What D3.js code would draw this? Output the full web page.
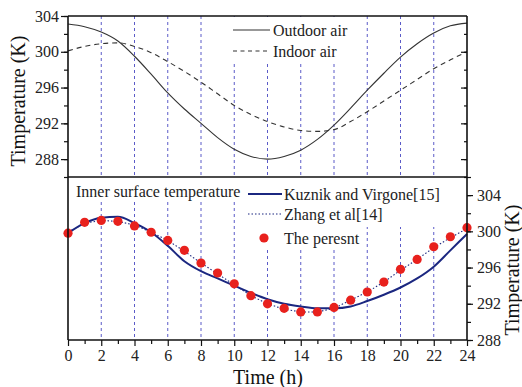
<!DOCTYPE html>
<html>
<head>
<meta charset="utf-8">
<script src="https://cdn.jsdelivr.net/npm/d3@7"></script>
<style>
  html, body { margin: 0; padding: 0; background: #fff; }
  svg { display: block; }
  svg text { font-family: "Liberation Serif", "Times New Roman", Tinos, "DejaVu Serif", serif; }
</style>
</head>
<body>
<svg id="chart" width="522" height="387"></svg>
<script>
// Hours of the day
const hours = d3.range(0, 25);

// Air temperatures (K), upper panel
const outdoorAir = [303.1, 302.8, 302.2, 301.2, 299.5, 297.5, 295.4, 293.6, 292.0, 290.4, 289.1, 288.3, 288.0,
                    288.3, 289.0, 290.2, 291.8, 293.7, 295.7, 297.6, 299.4, 300.9, 302.1, 302.9, 303.2];
const indoorAir = [300.1, 300.6, 300.9, 301.0, 300.6, 299.9, 298.9, 297.8, 296.6, 295.3, 294.0, 293.0, 292.2,
                   291.6, 291.2, 291.1, 291.3, 292.2, 293.3, 294.5, 295.7, 296.9, 298.1, 299.1, 300.0];

// Inner surface temperatures (K), lower panel
const kuznik = [299.8, 300.9, 301.5, 301.6, 300.9, 299.9, 298.4, 296.7, 295.6, 294.8, 294.0, 293.2, 292.5,
                292.0, 291.7, 291.5, 291.5, 291.7, 292.3, 293.0, 293.8, 294.8, 296.1, 297.9, 299.7];
const zhang = [299.9, 300.9, 301.2, 301.1, 300.7, 299.9, 299.0, 297.8, 296.5, 295.3, 294.1, 292.9, 292.0,
               291.4, 291.1, 291.1, 291.5, 292.4, 293.3, 294.4, 295.7, 296.9, 298.2, 299.3, 300.3];
const present = [299.8, 301.0, 301.2, 301.1, 300.6, 299.9, 299.0, 297.9, 296.5, 295.4, 294.2, 292.9, 292.0,
                 291.5, 291.1, 291.1, 291.6, 292.4, 293.3, 294.4, 295.8, 296.9, 298.3, 299.4, 300.4];

// Tick values
const xMajor = d3.range(0, 25, 2);
const xMinor = d3.range(1, 24, 2);
const yMajor = [288, 292, 296, 300, 304];
const topMinor = d3.range(286, 305, 2);
const botMinor = d3.range(288, 307, 2);
const gridHours = d3.range(2, 23, 2);

const svg = d3.select("#chart");
const L = 68, R = 467, T = 16, MID = 177, B = 340;

const x = d3.scaleLinear().domain([0, 24]).range([L, R]);
const yTop = d3.scaleLinear().domain([286, 304]).range([MID, T]);
const yBot = d3.scaleLinear().domain([288, 306]).range([B, MID]);

const navy = "#1b2780";
const gridColor = "#5b5bc8";
const serif = '"Liberation Serif", "Times New Roman", Tinos, "DejaVu Serif", serif';

// Vertical dashed reference lines
svg.append("g").selectAll("line").data(gridHours).join("line")
  .attr("x1", d => x(d)).attr("x2", d => x(d))
  .attr("y1", T).attr("y2", B)
  .attr("stroke", gridColor).attr("stroke-width", 1)
  .attr("stroke-dasharray", "3,3");

// Upper panel curves
const lineTop = d3.line().x((d, i) => x(hours[i])).y(d => yTop(d)).curve(d3.curveMonotoneX);
svg.append("path").attr("d", lineTop(outdoorAir))
  .attr("fill", "none").attr("stroke", "#333").attr("stroke-width", 1.1);
svg.append("path").attr("d", lineTop(indoorAir))
  .attr("fill", "none").attr("stroke", "#333").attr("stroke-width", 1.1)
  .attr("stroke-dasharray", "5,4");

// Lower panel curves
const lineBot = d3.line().x((d, i) => x(hours[i])).y(d => yBot(d)).curve(d3.curveMonotoneX);
svg.append("path").attr("d", lineBot(kuznik))
  .attr("fill", "none").attr("stroke", navy).attr("stroke-width", 2);
svg.append("path").attr("d", d3.line().x((d, i) => x(hours[i])).y(d => yBot(d))(zhang))
  .attr("fill", "none").attr("stroke", navy).attr("stroke-width", 1.1)
  .attr("stroke-dasharray", "1.5,2");
svg.append("g").selectAll("circle").data(present).join("circle")
  .attr("cx", (d, i) => x(hours[i])).attr("cy", d => yBot(d))
  .attr("r", 4.6).attr("fill", "#e8211d");

// Frame
const frame = svg.append("g").attr("stroke", "#111").attr("stroke-width", 1.6).attr("fill", "none");
frame.append("line").attr("x1", L).attr("x2", R).attr("y1", T).attr("y2", T);
frame.append("line").attr("x1", L).attr("x2", R).attr("y1", MID).attr("y2", MID);
frame.append("line").attr("x1", L).attr("x2", R).attr("y1", B).attr("y2", B);
frame.append("line").attr("x1", L).attr("x2", L).attr("y1", T).attr("y2", B);
frame.append("line").attr("x1", R).attr("x2", R).attr("y1", T).attr("y2", B);

function styleAxis(g) {
  g.select(".domain").remove();
  g.attr("font-family", serif).attr("font-size", 16);
  g.selectAll(".tick line").attr("stroke", "#111").attr("stroke-width", 1.2);
  g.selectAll(".tick text").attr("fill", "#222").style("font-family", serif).style("font-size", "16px");
}

// Upper left axis
svg.append("g").attr("transform", `translate(${L},0)`)
  .call(d3.axisLeft(yTop).tickValues(topMinor).tickSize(4).tickFormat(""))
  .call(styleAxis);
svg.append("g").attr("transform", `translate(${L},0)`)
  .call(d3.axisLeft(yTop).tickValues(yMajor).tickSize(7).tickPadding(2).tickFormat(d3.format("d")))
  .call(styleAxis);
// Upper right inner ticks
svg.append("g").attr("transform", `translate(${R},0)`)
  .call(d3.axisLeft(yTop).tickValues(topMinor.filter(v => v < 304)).tickSize(3).tickFormat(""))
  .call(styleAxis);
svg.append("g").attr("transform", `translate(${R},0)`)
  .call(d3.axisLeft(yTop).tickValues(yMajor.filter(v => v < 304)).tickSize(6).tickFormat(""))
  .call(styleAxis);

// Lower right axis
svg.append("g").attr("transform", `translate(${R},0)`)
  .call(d3.axisRight(yBot).tickValues(botMinor).tickSize(4).tickFormat(""))
  .call(styleAxis);
svg.append("g").attr("transform", `translate(${R},0)`)
  .call(d3.axisRight(yBot).tickValues(yMajor).tickSize(6).tickPadding(4).tickFormat(d3.format("d")))
  .call(styleAxis);

// Time axis
svg.append("g").attr("transform", `translate(0,${B})`)
  .call(d3.axisBottom(x).tickValues(xMinor).tickSize(4).tickFormat(""))
  .call(styleAxis);
svg.append("g").attr("transform", `translate(0,${B})`)
  .call(d3.axisBottom(x).tickValues(xMajor).tickSize(6).tickPadding(4).tickFormat(d3.format("d")))
  .call(styleAxis);

// Axis titles
svg.append("text").attr("transform", "translate(25,101) rotate(-90)")
  .attr("text-anchor", "middle").attr("font-size", 20).attr("fill", "#111")
  .text("Timperature (K)");
svg.append("text").attr("transform", "translate(519,270) rotate(-90)")
  .attr("text-anchor", "middle").attr("font-size", 20).attr("fill", "#111")
  .text("Timperature (K)");
svg.append("text").attr("x", 268).attr("y", 384)
  .attr("text-anchor", "middle").attr("font-size", 20).attr("fill", "#111")
  .text("Time (h)");

// Upper legend
const lg1 = svg.append("g");
lg1.append("rect").attr("x", 226).attr("y", T + 1).attr("width", 130).attr("height", 44).attr("fill", "#fff");
lg1.append("line").attr("x1", 233).attr("x2", 270).attr("y1", 30).attr("y2", 30)
  .attr("stroke", "#333").attr("stroke-width", 1.1);
lg1.append("text").attr("x", 273).attr("y", 35.5).attr("font-size", 16).attr("fill", "#222").text("Outdoor air");
lg1.append("line").attr("x1", 233).attr("x2", 270).attr("y1", 51).attr("y2", 51)
  .attr("stroke", "#333").attr("stroke-width", 1.1).attr("stroke-dasharray", "4,3.5");
lg1.append("text").attr("x", 273).attr("y", 56.5).attr("font-size", 16).attr("fill", "#222").text("Indoor air");

// Lower legend
const lg2 = svg.append("g");
lg2.append("rect").attr("x", 70).attr("y", MID + 1).attr("width", 174).attr("height", 21).attr("fill", "#fff");
lg2.append("rect").attr("x", 244).attr("y", MID + 1).attr("width", 204).attr("height", 49).attr("fill", "#fff");
lg2.append("rect").attr("x", 244).attr("y", MID + 1).attr("width", 120).attr("height", 72).attr("fill", "#fff");
lg2.append("text").attr("x", 76).attr("y", 197).attr("font-size", 16).attr("fill", "#222")
  .text("Inner surface temperature");
lg2.append("line").attr("x1", 248).attr("x2", 282).attr("y1", 194).attr("y2", 194)
  .attr("stroke", navy).attr("stroke-width", 2);
lg2.append("text").attr("x", 284).attr("y", 199.5).attr("font-size", 16).attr("fill", "#222")
  .text("Kuznik and Virgone[15]");
lg2.append("line").attr("x1", 248).attr("x2", 282).attr("y1", 214).attr("y2", 214)
  .attr("stroke", navy).attr("stroke-width", 1.1).attr("stroke-dasharray", "1.5,2");
lg2.append("text").attr("x", 284).attr("y", 219.5).attr("font-size", 16).attr("fill", "#222")
  .text("Zhang et al[14]");
lg2.append("circle").attr("cx", 264).attr("cy", 238).attr("r", 4.6).attr("fill", "#e8211d");
lg2.append("text").attr("x", 284).attr("y", 243.5).attr("font-size", 16).attr("fill", "#222")
  .text("The peresnt");
</script>
</body>
</html>
